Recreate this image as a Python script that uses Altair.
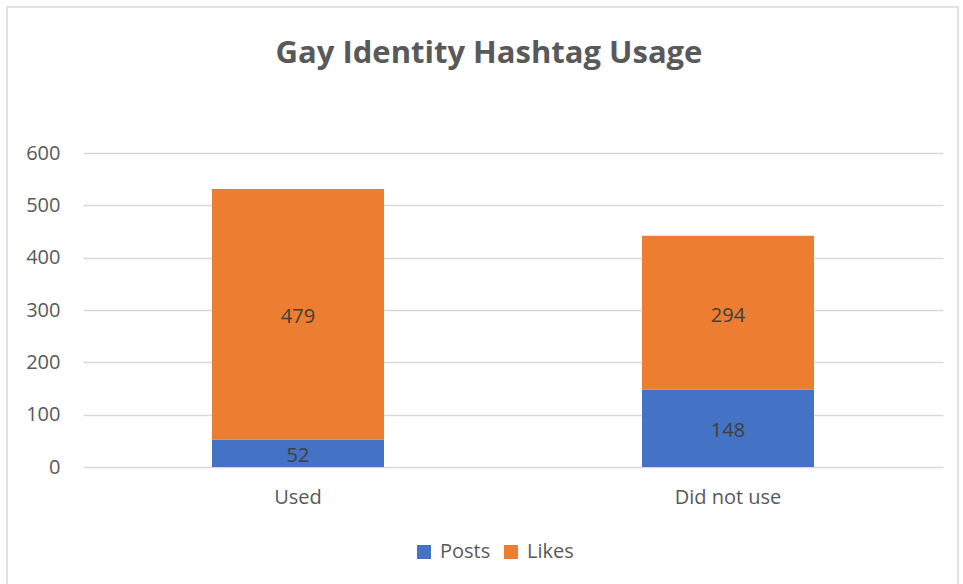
import altair as alt
import pandas as pd

categories = ["Used", "Did not use"]
series = ["Posts", "Likes"]
posts = [52, 148]
likes = [479, 294]
y_ticks = [0, 100, 200, 300, 400, 500, 600]
colors = ["#4472C4", "#ED7D31"]

rows = []
for i, c in enumerate(categories):
    rows.append({"cat": c, "series": "Posts", "value": posts[i], "order": 0})
    rows.append({"cat": c, "series": "Likes", "value": likes[i], "order": 1})
df = pd.DataFrame(rows)

FONT = "Open Sans"
GRAY = "#595959"

x_enc = alt.X(
    "cat:N", sort=categories, title=None,
    scale=alt.Scale(paddingInner=0.6, paddingOuter=0.3),
    axis=alt.Axis(labelAngle=0, ticks=False, domain=False, grid=False,
                  labelFontSize=20, labelColor=GRAY, labelFont=FONT, labelPadding=20),
)

bars = alt.Chart(df).mark_bar().encode(
    x=x_enc,
    y=alt.Y("value:Q", stack="zero", title=None,
            scale=alt.Scale(domain=[0, 600]),
            axis=alt.Axis(values=y_ticks, ticks=False, domain=False,
                          gridColor="#d9d9d9", gridWidth=1.5,
                          labelFontSize=20, labelColor=GRAY, labelFont=FONT,
                          labelPadding=23)),
    color=alt.Color("series:N", scale=alt.Scale(domain=series, range=colors),
                    legend=alt.Legend(orient="none", legendX=331, legendY=389,
                                      direction="horizontal", title=None,
                                      symbolType="square", symbolSize=196,
                                      symbolStrokeWidth=0,
                                      labelFontSize=20, labelColor=GRAY, labelFont=FONT,
                                      columnPadding=10, labelOffset=6)),
    order=alt.Order("order:Q"),
)

labels = alt.Chart(df).transform_stack(
    stack="value", groupby=["cat"], sort=[alt.SortField("order")], as_=["v0", "v1"]
).transform_calculate(
    mid="(datum.v0 + datum.v1) / 2"
).mark_text(fontSize=20, color="#404040", font=FONT, baseline="middle", dy=3).encode(
    x=alt.X("cat:N", sort=categories),
    y=alt.Y("mid:Q"),
    text=alt.Text("value:Q"),
)

border = alt.Chart(pd.DataFrame({"a": [0]})).mark_rect(
    fillOpacity=0, stroke="#d9d9d9", strokeWidth=1.5
).encode(
    x=alt.value(-76), x2=alt.value(875), y=alt.value(-146), y2=alt.value(600)
)

chart = alt.layer(border, bars, labels).properties(
    width=860, height=314,
    autosize="none",
    padding={"left": 83, "top": 153, "right": 20, "bottom": 117},
    title=alt.TitleParams("Gay Identity Hashtag Usage", fontSize=31, fontWeight="bold",
                          color=GRAY, font=FONT, anchor="middle", dx=-24, offset=-64),
).configure(background="white").configure_view(strokeWidth=0)

chart.save("out.html", embed_options={"renderer": "svg", "actions": False})
